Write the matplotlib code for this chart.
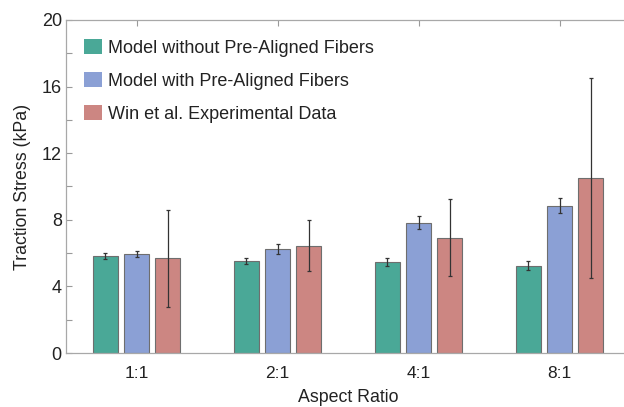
import numpy as np
import matplotlib.pyplot as plt
from matplotlib.patches import Patch

plt.rcParams['font.family'] = ['Liberation Sans', 'DejaVu Sans']

# data
ratios = ['1:1', '2:1', '4:1', '8:1']
no_align = [5.8, 5.55, 5.45, 5.25]
no_align_err = [0.18, 0.18, 0.23, 0.28]
pre_align = [5.93, 6.27, 7.82, 8.85]
pre_align_err = [0.18, 0.3, 0.38, 0.43]
win_exp = [5.68, 6.45, 6.93, 10.5]
win_lo = [2.75, 4.9, 4.6, 4.5]
win_hi = [8.6, 8.0, 9.25, 16.5]

labels = ['Model without Pre-Aligned Fibers', 'Model with Pre-Aligned Fibers',
          'Win et al. Experimental Data']
colors = ['#4aa897', '#8ba0d5', '#cc8682']

fig = plt.figure(figsize=(6.24, 4.07), dpi=100)
ax = fig.add_axes([66 / 624, 54 / 407, 564 / 624, 333 / 407])

x = np.arange(1, len(ratios) + 1)
w = 0.18
off = 0.222
win_err = [np.array(win_exp) - np.array(win_lo), np.array(win_hi) - np.array(win_exp)]
series = [(no_align, no_align_err), (pre_align, pre_align_err), (win_exp, win_err)]
for i, (vals, err) in enumerate(series):
    ax.bar(x + (i - 1) * off, vals, w, color=colors[i], edgecolor='#6e6e6e', linewidth=0.8,
           yerr=err, error_kw=dict(ecolor='#333333', elinewidth=0.9, capsize=1.5, capthick=0.9),
           zorder=2)

ax.set_xlim(0.5, 4.5)
ax.set_ylim(0, 20)
ax.set_xticks(x)
ax.set_xticklabels(ratios)
ax.set_yticks(np.arange(0, 21, 2))
ax.set_yticklabels([str(v) if v % 4 == 0 else '' for v in range(0, 21, 2)])
ax.tick_params(direction='in', length=4, width=0.8, color='#9a9a9a', labelsize=13,
               labelcolor='#222222', top=True, right=True, pad=3)
ax.tick_params(axis='x', pad=9, labelsize=12.5)
for s in ax.spines.values():
    s.set_color('#a8a8a8')
    s.set_linewidth(0.9)

ax.set_xlabel('Aspect Ratio', fontsize=12.8, color='#222222', labelpad=6)
ax.set_ylabel('Traction Stress (kPa)', fontsize=12.8, color='#222222', labelpad=8)

handles = [Patch(facecolor=c, edgecolor='none') for c in colors]
ax.legend(handles, labels, loc='upper left', bbox_to_anchor=(0.0324, 0.944), frameon=False,
          fontsize=13, handlelength=1.0, handleheight=0.94, labelspacing=0.84,
          handletextpad=0.33, borderpad=0, borderaxespad=0, labelcolor='#222222')

fig.savefig('out.png', dpi=100, facecolor='white')
